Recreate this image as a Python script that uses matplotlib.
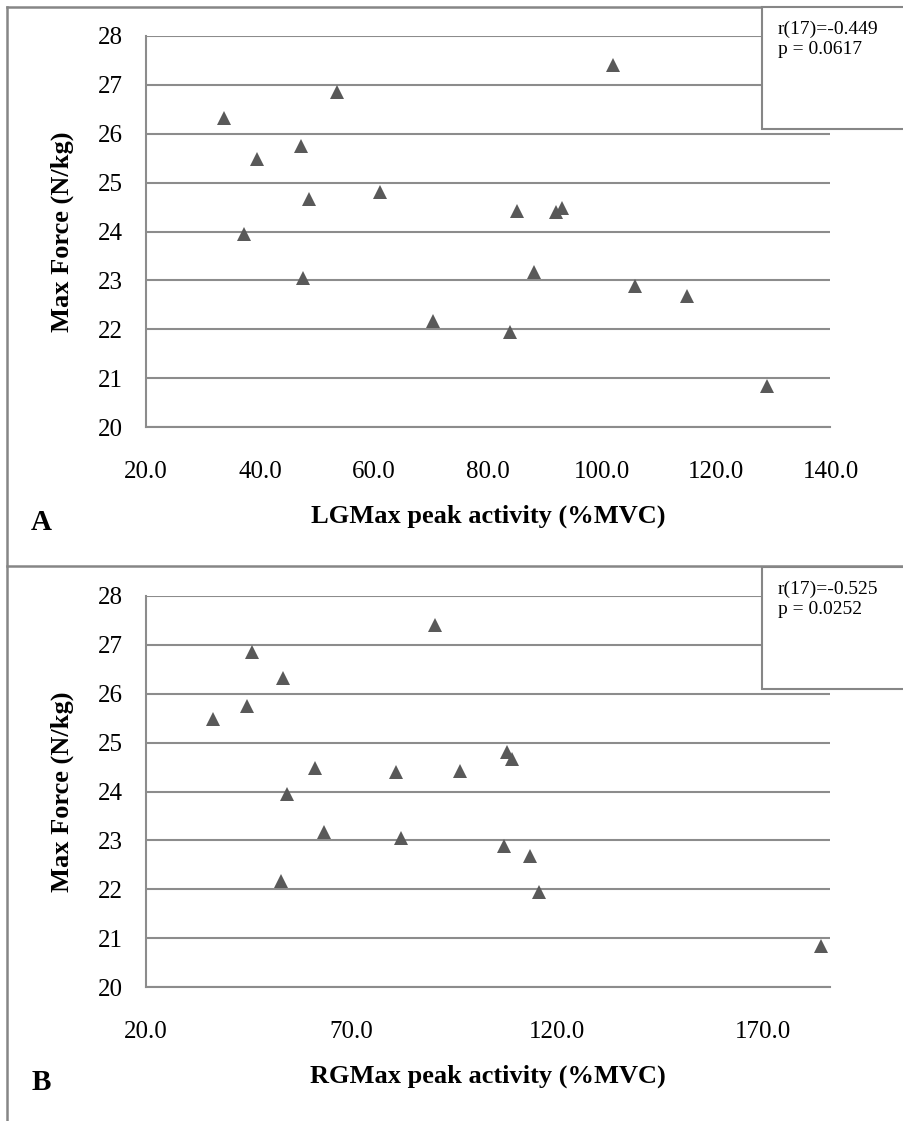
import matplotlib
matplotlib.use("Agg")
import matplotlib.pyplot as plt
from matplotlib.lines import Line2D
from matplotlib.patches import Rectangle

# Max force per subject (N/kg), same subject order in both panels
max_force = [26.86, 26.31, 25.75, 25.48, 24.66, 24.81, 23.94, 23.06, 22.17,
             27.40, 24.42, 24.39, 24.47, 23.17, 22.89, 22.68, 21.95, 20.85]

# Left gluteus maximus peak activity (%MVC)
lg_peak = [53.4, 33.6, 47.2, 39.5, 48.5, 61.1, 37.2, 47.5, 70.4,
           101.9, 85.1, 91.9, 92.9, 88.1, 105.8, 114.8, 83.8, 128.8]

# Right gluteus maximus peak activity (%MVC)
rg_peak = [45.9, 53.3, 44.5, 36.2, 109.1, 107.7, 54.4, 82.1, 52.8,
           90.4, 96.5, 80.9, 61.2, 63.3, 107.2, 113.5, 115.7, 184.1]

lg_ticks = [20, 40, 60, 80, 100, 120, 140]
rg_ticks = [20, 70, 120, 170]
force_ticks = [20, 21, 22, 23, 24, 25, 26, 27, 28]

stats_a = ["r(17)=-0.449", "p = 0.0617"]
stats_b = ["r(17)=-0.525", "p = 0.0252"]

W, H = 904, 1121
GRID = "#8c8c8c"
FRAME = "#868686"
MARK = "#595959"
SERIF = ["Liberation Serif", "DejaVu Serif"]

plt.rcParams["font.family"] = SERIF


def fx(px):
    return px / W


def fy(py):
    return 1 - py / H


fig = plt.figure(figsize=(W / 100, H / 100), dpi=100)


def panel(top_px, xs, xlim, xticks, xlabel, letter, stats, box_top):
    left, right, bottom = 146, 830.5, top_px + 391.6
    ax = fig.add_axes([fx(left), fy(bottom), fx(right - left), (bottom - top_px) / H])
    ax.plot(xs, max_force, linestyle="none", marker="^", markersize=10,
            color=MARK, markeredgewidth=0, zorder=3)
    ax.set_xlim(*xlim)
    ax.set_ylim(20, 28)
    ax.set_xticks(xticks)
    ax.set_xticklabels([f"{t:.1f}" for t in xticks])
    ax.set_yticks(force_ticks)
    ax.grid(axis="y", color=GRID, linewidth=1.5)
    ax.set_axisbelow(True)
    for side in ("top", "right"):
        ax.spines[side].set_visible(False)
    for side in ("left", "bottom"):
        ax.spines[side].set_color(GRID)
        ax.spines[side].set_linewidth(1.5)
    ax.tick_params(axis="both", length=0, labelsize=18)
    ax.tick_params(axis="x", pad=24)
    ax.tick_params(axis="y", pad=17)
    ax.set_xlabel(xlabel, fontsize=19, fontweight="bold")
    ax.xaxis.set_label_coords(0.5, -0.197)
    ax.set_ylabel("Max Force (N/kg)", fontsize=19, fontweight="bold")
    ax.yaxis.set_label_coords(-0.105, 0.5)

    fig.text(fx(41), fy(bottom + 95), letter, fontsize=21, fontweight="bold",
             ha="center", va="center")

    # statistics box in the upper right corner
    fig.add_artist(Rectangle((fx(762), fy(box_top + 122)), fx(200), 122 / H,
                             transform=fig.transFigure, facecolor="white",
                             edgecolor=FRAME, linewidth=1.5, zorder=5))
    for i, line in enumerate(stats):
        fig.text(fx(778), fy(box_top + 22 + 21 * i), line, fontsize=14,
                 ha="left", va="center", zorder=6)
    return ax


panel(35.7, lg_peak, (20, 140), lg_ticks, "LGMax peak activity (%MVC)", "A",
      stats_a, 7)
panel(595.7, rg_peak, (20, 186.5), rg_ticks, "RGMax peak activity (%MVC)", "B",
      stats_b, 567)

# panel frame lines
for xs, ys in [((7, W), (7, 7)), ((7, 7), (7, H)), ((7, W), (566, 566))]:
    fig.add_artist(Line2D([fx(v) for v in xs], [fy(v) for v in ys],
                          transform=fig.transFigure, color=FRAME,
                          linewidth=1.8, zorder=4))

fig.savefig("out.png", dpi=100)
